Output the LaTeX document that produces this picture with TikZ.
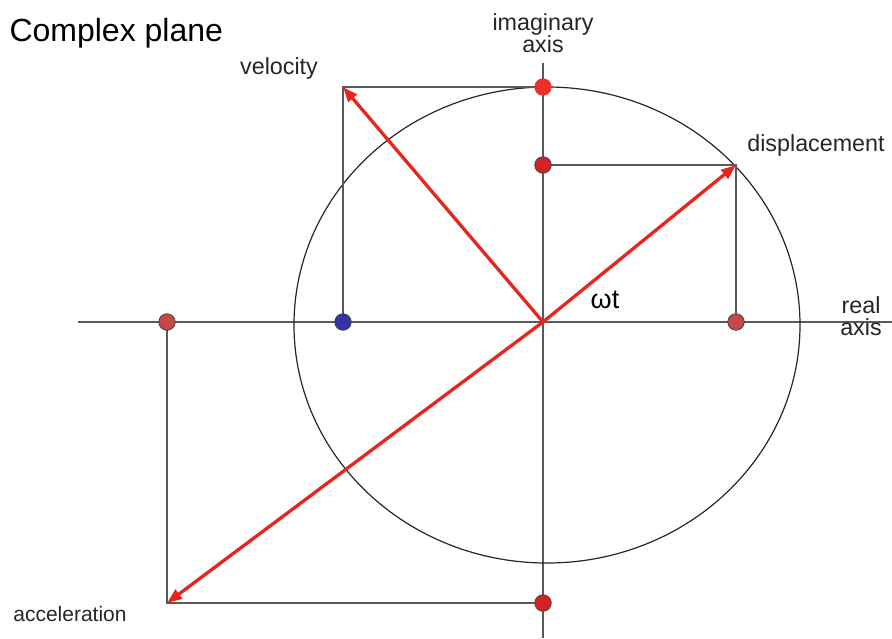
\documentclass[tikz,border=0pt]{standalone}
\usepackage{fontspec}
\setmainfont{Liberation Sans}
\usetikzlibrary{arrows.meta}
\definecolor{vecred}{RGB}{232,36,30}
\definecolor{dotbright}{RGB}{236,48,40}
\definecolor{dotred}{RGB}{214,34,34}
\definecolor{dotmuted}{RGB}{196,72,72}
\definecolor{dotblue}{RGB}{52,52,170}
\begin{document}
\begin{tikzpicture}[x=1pt, y=-1pt,
  thinline/.style={line width=1.5pt, draw=black!65},
  phasor/.style={line width=3.3pt, draw=vecred, -{Triangle[length=15pt,width=11pt]}},
  pdot/.style={circle, draw=black!75, line width=0.8pt, inner sep=0pt, minimum size=16.5pt},
  lbl/.style={font=\fontsize{23.3}{26}\selectfont, text=black!85, align=center}]
\useasboundingbox (0,0) rectangle (892,638);
% points of the phasor diagram
\coordinate (O) at (543,322);
\coordinate (D) at (736,165);
\coordinate (V) at (343,87);
\coordinate (A) at (167,603);
\coordinate (dimag) at (543,165);
\coordinate (dreal) at (736,322);
\coordinate (vimag) at (543,87);
\coordinate (vreal) at (343,322);
\coordinate (aimag) at (543,603);
\coordinate (areal) at (167,322);
\coordinate (xl) at (78,322);
\coordinate (xr) at (892,322);
\coordinate (yt) at (543,63);
\coordinate (yb) at (543,638);
% axes and circle
\draw[thinline] (xl) -- (xr);
\draw[thinline] (yt) -- (yb);
\draw[line width=1.2pt, black!85] (547,325) ellipse [x radius=253, y radius=238];
% projections
\draw[thinline] (dimag) -- (D) -- (dreal);
\draw[thinline] (vimag) -- (V) -- (vreal);
\draw[thinline] (areal) -- (A) -- (aimag);
% phasors
\draw[phasor] (O) -- (D);
\draw[phasor] (O) -- (V);
\draw[phasor] (O) -- (A);
% dots
\node[pdot, fill=dotbright, draw=dotbright] (vimagdot) at (vimag) {};
\node[pdot, fill=dotred] (dimagdot) at (dimag) {};
\node[pdot, fill=dotred] (aimagdot) at (aimag) {};
\node[pdot, fill=dotblue] (vrealdot) at (vreal) {};
\node[pdot, fill=dotmuted] (arealdot) at (areal) {};
\node[pdot, fill=dotmuted] (drealdot) at (dreal) {};
% labels
\node[anchor=west, font=\fontsize{32}{35}\selectfont] (title) at (6,33) {Complex plane};
\node[lbl] (imaglbl) at (543,33) {imaginary\\[-4pt]axis};
\node[lbl] (reallbl) at (861,316) {real\\[-4pt]axis};
\node[lbl] (vellbl) at (279,68) {velocity};
\node[lbl] (displbl) at (816,145) {displacement};
\node[lbl, font=\fontsize{21}{24}\selectfont] (acclbl) at (70,614) {acceleration};
\node[font=\fontsize{27}{30}\selectfont] (wtlbl) at (605,300) {ωt};
\end{tikzpicture}
\end{document}
